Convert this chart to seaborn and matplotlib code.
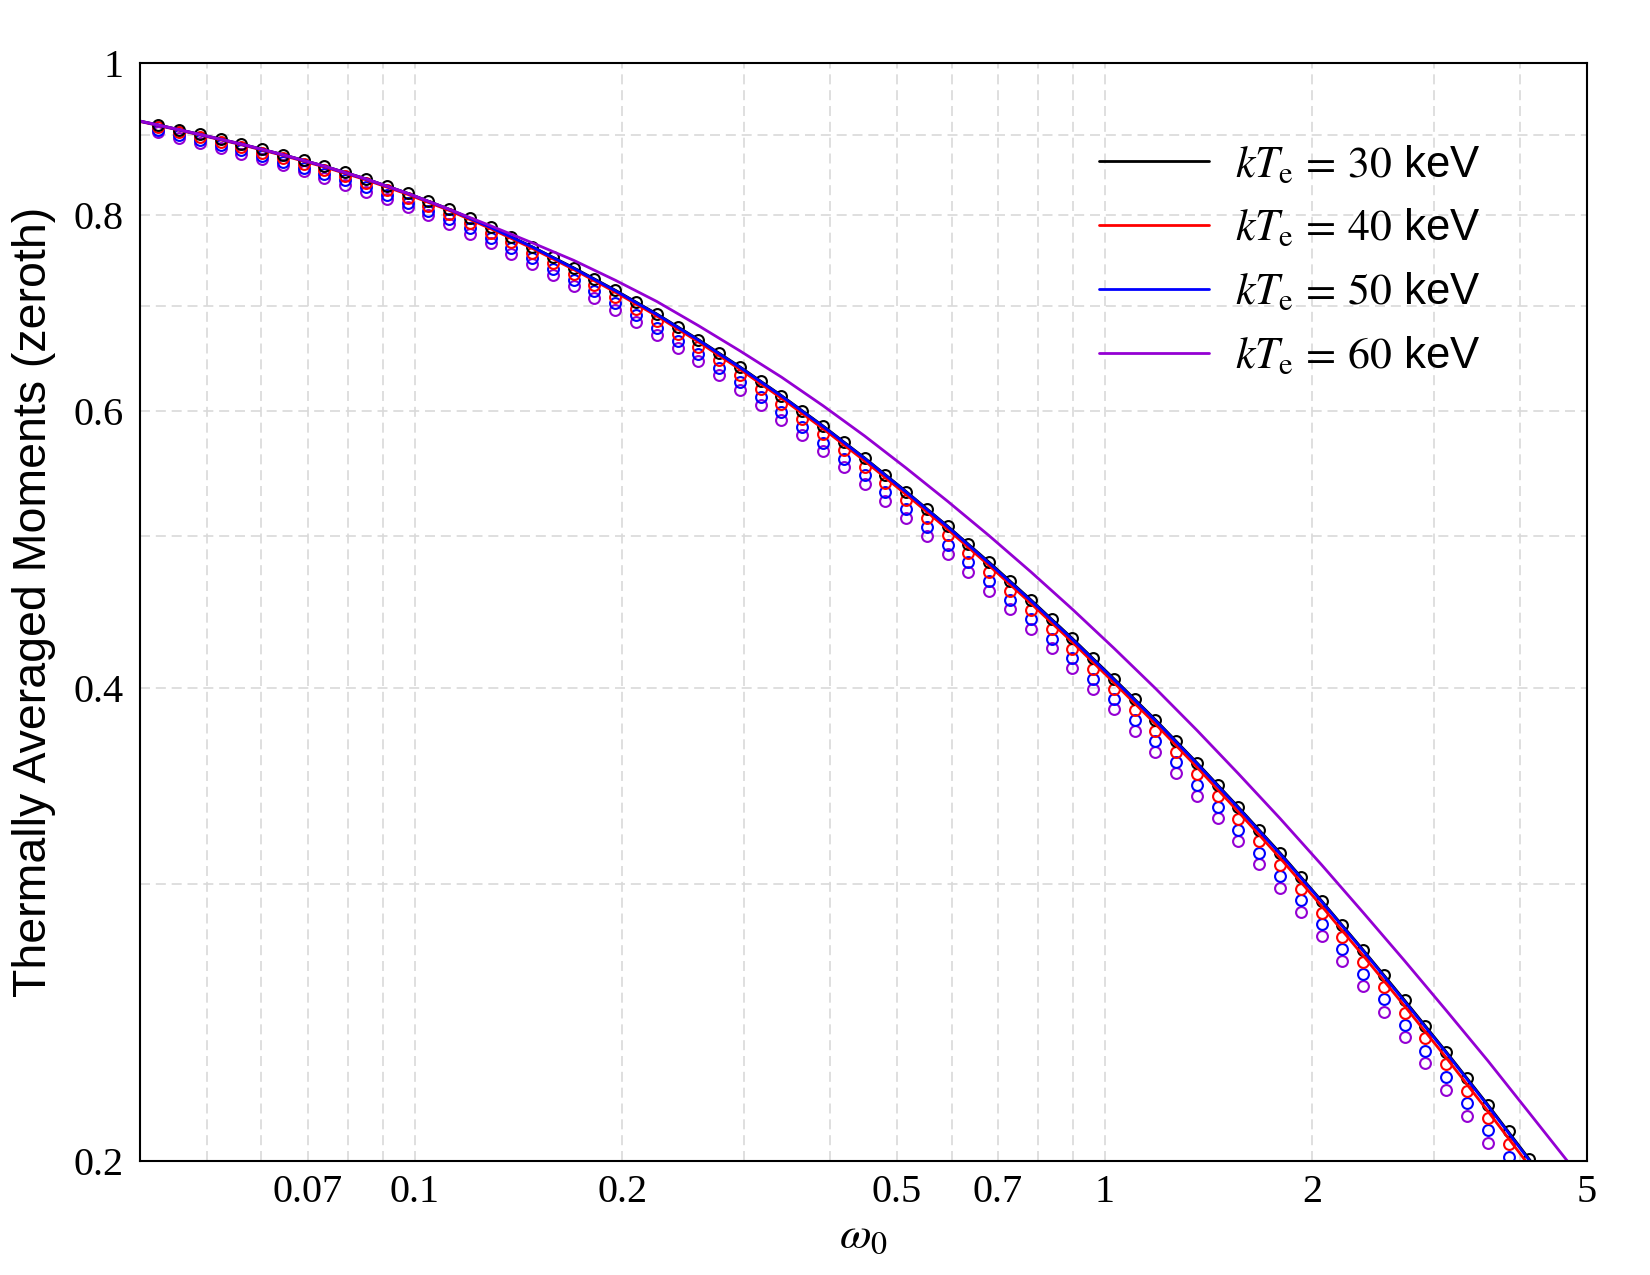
import matplotlib
matplotlib.use('Agg')
import matplotlib.pyplot as plt
from matplotlib.ticker import FixedLocator, FixedFormatter, LogLocator, NullFormatter
import seaborn as sns

# photon energy grid of the computed points (omega_0)
omega_pts = [0.04252, 0.04557, 0.04884, 0.05235, 0.05611, 0.06013, 0.06445, 0.06907, 0.07403, 0.07935,
             0.08504, 0.09115, 0.09769, 0.1047, 0.1122, 0.1203, 0.1289, 0.1381, 0.1481, 0.1587,
             0.1701, 0.1823, 0.1954, 0.2094, 0.2244, 0.2405, 0.2578, 0.2763, 0.2961, 0.3174,
             0.3402, 0.3646, 0.3908, 0.4188, 0.4489, 0.4811, 0.5156, 0.5526, 0.5923, 0.6348,
             0.6803, 0.7292, 0.7815, 0.8376, 0.8977, 0.9622, 1.031, 1.105, 1.185, 1.270,
             1.361, 1.459, 1.563, 1.675, 1.796, 1.924, 2.063, 2.211, 2.369, 2.540,
             2.721, 2.917, 3.126, 3.350, 3.591, 3.849, 4.125]

mom30_pts = [0.9132, 0.9070, 0.9007, 0.8944, 0.8880, 0.8813, 0.8743, 0.8672, 0.8597, 0.8520,
             0.8438, 0.8352, 0.8262, 0.8168, 0.8071, 0.7967, 0.7860, 0.7750, 0.7638, 0.7522,
             0.7406, 0.7288, 0.7167, 0.7045, 0.6922, 0.6795, 0.6667, 0.6537, 0.6406, 0.6274,
             0.6141, 0.6008, 0.5874, 0.5739, 0.5605, 0.5470, 0.5336, 0.5203, 0.5071, 0.4941,
             0.4810, 0.4681, 0.4553, 0.4427, 0.4302, 0.4178, 0.4056, 0.3936, 0.3818, 0.3702,
             0.3585, 0.3471, 0.3359, 0.3249, 0.3141, 0.3033, 0.2928, 0.2825, 0.2725, 0.2627,
             0.2531, 0.2438, 0.2347, 0.2258, 0.2172, 0.2089, 0.2005]

mom40_pts = [0.9098, 0.9034, 0.8969, 0.8904, 0.8838, 0.8769, 0.8697, 0.8624, 0.8547, 0.8469,
             0.8385, 0.8297, 0.8206, 0.8110, 0.8012, 0.7906, 0.7798, 0.7687, 0.7574, 0.7456,
             0.7339, 0.7220, 0.7099, 0.6976, 0.6852, 0.6724, 0.6596, 0.6466, 0.6334, 0.6202,
             0.6069, 0.5936, 0.5803, 0.5668, 0.5535, 0.5400, 0.5267, 0.5135, 0.5003, 0.4874,
             0.4744, 0.4615, 0.4488, 0.4363, 0.4239, 0.4116, 0.3995, 0.3876, 0.3759, 0.3644,
             0.3528, 0.3415, 0.3304, 0.3195, 0.3088, 0.2981, 0.2877, 0.2776, 0.2677, 0.2580,
             0.2485, 0.2394, 0.2304, 0.2216, 0.2131, 0.2050, 0.1967]

mom50_pts = [0.9065, 0.8999, 0.8932, 0.8865, 0.8797, 0.8726, 0.8652, 0.8577, 0.8498, 0.8418,
             0.8333, 0.8243, 0.8150, 0.8053, 0.7954, 0.7847, 0.7737, 0.7625, 0.7510, 0.7392,
             0.7274, 0.7154, 0.7031, 0.6908, 0.6784, 0.6655, 0.6526, 0.6396, 0.6264, 0.6132,
             0.5999, 0.5867, 0.5733, 0.5599, 0.5466, 0.5332, 0.5200, 0.5068, 0.4937, 0.4809,
             0.4679, 0.4552, 0.4425, 0.4301, 0.4178, 0.4056, 0.3935, 0.3817, 0.3701, 0.3587,
             0.3472, 0.3360, 0.3250, 0.3143, 0.3037, 0.2931, 0.2829, 0.2728, 0.2631, 0.2535,
             0.2442, 0.2351, 0.2262, 0.2176, 0.2092, 0.2012, 0.1930]

mom60_pts = [0.9032, 0.8964, 0.8895, 0.8825, 0.8755, 0.8682, 0.8607, 0.8530, 0.8450, 0.8367,
             0.8280, 0.8190, 0.8095, 0.7997, 0.7895, 0.7787, 0.7676, 0.7563, 0.7447, 0.7328,
             0.7209, 0.7088, 0.6965, 0.6840, 0.6715, 0.6587, 0.6457, 0.6326, 0.6194, 0.6061,
             0.5929, 0.5797, 0.5664, 0.5531, 0.5398, 0.5265, 0.5133, 0.5002, 0.4872, 0.4744,
             0.4615, 0.4489, 0.4363, 0.4240, 0.4117, 0.3996, 0.3877, 0.3759, 0.3644, 0.3531,
             0.3417, 0.3306, 0.3198, 0.3091, 0.2986, 0.2881, 0.2780, 0.2681, 0.2585, 0.2490,
             0.2398, 0.2309, 0.2221, 0.2136, 0.2054, 0.1974, 0.1894]

# approximation curves (solid lines)
omega_fit = [0.04, 0.04252, 0.04884, 0.05611, 0.06445, 0.07403, 0.08504, 0.09769, 0.1122, 0.1289,
             0.1481, 0.1701, 0.1954, 0.2244, 0.2578, 0.2961, 0.3402, 0.3908, 0.4489, 0.5156,
             0.5923, 0.6803, 0.7815, 0.8977, 1.031, 1.185, 1.361, 1.563, 1.796, 2.063,
             2.369, 2.721, 3.126, 3.591, 4.125, 4.739]

fit30 = [0.9184, 0.9132, 0.9007, 0.8880, 0.8743, 0.8597, 0.8438, 0.8262, 0.8071, 0.7860,
         0.7638, 0.7406, 0.7167, 0.6922, 0.6667, 0.6406, 0.6141, 0.5874, 0.5605, 0.5336,
         0.5071, 0.4810, 0.4553, 0.4302, 0.4056, 0.3818, 0.3585, 0.3359, 0.3141, 0.2928,
         0.2725, 0.2531, 0.2347, 0.2172, 0.2005, 0.1849]

fit40 = [0.9178, 0.9125, 0.8999, 0.8871, 0.8733, 0.8586, 0.8426, 0.8249, 0.8057, 0.7844,
         0.7621, 0.7388, 0.7147, 0.6902, 0.6645, 0.6383, 0.6118, 0.5851, 0.5581, 0.5313,
         0.5048, 0.4787, 0.4530, 0.4279, 0.4033, 0.3795, 0.3562, 0.3336, 0.3118, 0.2906,
         0.2703, 0.2510, 0.2327, 0.2152, 0.1986, 0.1831]

fit50 = [0.9181, 0.9129, 0.9004, 0.8877, 0.8740, 0.8594, 0.8435, 0.8260, 0.8069, 0.7858,
         0.7636, 0.7401, 0.7162, 0.6917, 0.6662, 0.6401, 0.6137, 0.5870, 0.5601, 0.5332,
         0.5067, 0.4804, 0.4548, 0.4297, 0.4051, 0.3814, 0.3581, 0.3355, 0.3137, 0.2925,
         0.2722, 0.2527, 0.2344, 0.2169, 0.2002, 0.1846]

fit60 = [0.9184, 0.9132, 0.9007, 0.8880, 0.8743, 0.8597, 0.8438, 0.8262, 0.8071, 0.7877,
         0.7683, 0.7488, 0.7273, 0.7050, 0.6805, 0.6558, 0.6310, 0.6051, 0.5789, 0.5523,
         0.5260, 0.5001, 0.4744, 0.4491, 0.4242, 0.3998, 0.3760, 0.3528, 0.3304, 0.3087,
         0.2879, 0.2682, 0.2494, 0.2317, 0.2146, 0.1987]

temps = ['30', '40', '50', '60']
colors = ['#000000', '#ff0000', '#0000ff', '#9400d3']

xticks = [0.07, 0.1, 0.2, 0.5, 0.7, 1, 2, 5]
xticklabels = ['0.07', '0.1', '0.2', '0.5', '0.7', '1', '2', '5']
yticks = [0.2, 0.4, 0.6, 0.8, 1]
yticklabels = ['0.2', '0.4', '0.6', '0.8', '1']


sns.set_theme(style='white')
plt.rcParams['font.family'] = ['Liberation Serif', 'DejaVu Serif']
plt.rcParams['mathtext.fontset'] = 'stix'
for key in ['text.color', 'axes.labelcolor', 'xtick.color', 'ytick.color']:
    plt.rcParams[key] = 'black'

fig, ax = plt.subplots(figsize=(16.5, 12.75), dpi=100)
fig.subplots_adjust(left=0.0848, right=0.9618, bottom=0.0894, top=0.9506)
ax.set_xscale('log')
ax.set_yscale('log')

# open circles, drawn under the lines
pts = [mom30_pts, mom40_pts, mom50_pts, mom60_pts]
for y, c in reversed(list(zip(pts, colors))):
    sns.lineplot(x=omega_pts, y=y, ax=ax, color=c, linestyle='none', marker='o',
                 markersize=7.8, markerfacecolor='none', markeredgecolor=c,
                 markeredgewidth=1.5, estimator=None, sort=False)

fits = [fit30, fit40, fit50, fit60]
for y, c, t in zip(fits, colors, temps):
    sns.lineplot(x=omega_fit, y=y, ax=ax, color=c, linewidth=2.0,
                 estimator=None, sort=False,
                 label=r'$kT_{\mathrm{e}}\,=\,%s$ keV' % t)

ax.set_xlim(0.04, 5)
ax.set_ylim(0.2, 1)

ax.xaxis.set_major_locator(FixedLocator(xticks))
ax.xaxis.set_major_formatter(FixedFormatter(xticklabels))
ax.xaxis.set_minor_locator(LogLocator(base=10, subs=range(1, 10), numticks=20))
ax.xaxis.set_minor_formatter(NullFormatter())
ax.yaxis.set_major_locator(FixedLocator(yticks))
ax.yaxis.set_major_formatter(FixedFormatter(yticklabels))
ax.yaxis.set_minor_locator(LogLocator(base=10, subs=range(1, 10), numticks=20))
ax.yaxis.set_minor_formatter(NullFormatter())

ax.grid(True, which='both', color='#d9d9d9', linestyle=(0, (6, 3.5)), linewidth=1.2)
ax.set_axisbelow(True)
ax.tick_params(axis='both', which='both', length=0, labelsize=29, labelcolor='black')
ax.tick_params(axis='x', pad=9)
ax.tick_params(axis='y', pad=12)

for sp in ax.spines.values():
    sp.set_color('black')
    sp.set_linewidth(1.5)

ax.set_ylabel('Thermally Averaged Moments (zeroth)', fontfamily='Liberation Sans',
              fontsize=33.5, color='black')
ax.yaxis.set_label_coords(-0.058, 0.509)
ax.set_xlabel(r'$\omega_0$', fontsize=33, color='black')
ax.xaxis.set_label_coords(0.5, -0.05)

leg = ax.legend(loc='upper left', bbox_to_anchor=(0.651, 0.9426), frameon=False,
                prop={'family': 'Liberation Sans', 'size': 31.5},
                handlelength=2.5, handletextpad=0.6, labelspacing=0.5, borderaxespad=0)
for txt in leg.get_texts():
    txt.set_color('black')

fig.savefig('out.png', dpi=100)
plt.close(fig)
